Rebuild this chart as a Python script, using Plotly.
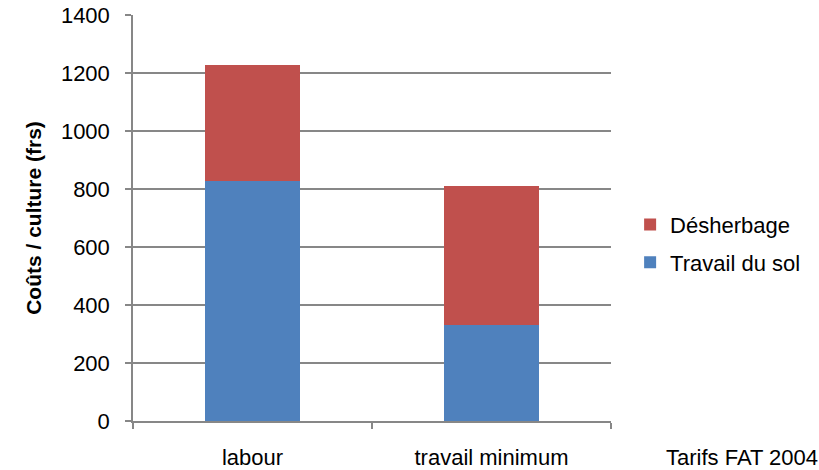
import plotly.graph_objects as go

# Cost per crop under two tillage systems (frs)
categories = ["labour", "travail minimum"]
travail_du_sol = [828, 330]
desherbage = [400, 480]
y_ticks = [0, 200, 400, 600, 800, 1000, 1200, 1400]

BLUE = "#4F81BD"
RED = "#C0504D"
GRID = "#878787"
FONT = "Liberation Sans, Arial, sans-serif"

fig = go.Figure()
fig.add_trace(go.Bar(
    x=categories, y=travail_du_sol, name="Travail du sol",
    marker=dict(color=BLUE, line=dict(width=0)),
    legendgroup="sol", legendrank=2,
))
fig.add_trace(go.Bar(
    x=categories, y=desherbage, name="Désherbage",
    marker=dict(color=RED, line=dict(width=0)),
    legendgroup="desh", legendrank=1,
))

fig.update_layout(
    width=819, height=470,
    margin=dict(l=133, r=208, t=15, b=49, autoexpand=False),
    barmode="stack", bargap=0.6,
    plot_bgcolor="white", paper_bgcolor="white",
    font=dict(family=FONT, color="black", size=21),
    showlegend=True,
    legend=dict(
        x=1.04, xanchor="left", y=0.535, yanchor="top",
        traceorder="grouped", tracegroupgap=6,
        font=dict(size=22), itemwidth=30, bgcolor="rgba(0,0,0,0)",
    ),
    xaxis=dict(
        type="category", showline=True, linecolor=GRID, linewidth=1.5,
        ticks="outside", tickson="boundaries", ticklen=6, tickcolor=GRID,
        tickwidth=1.5, showgrid=False, tickfont=dict(size=22),
        ticklabelstandoff=16, automargin=False,
    ),
    yaxis=dict(
        range=[0, 1400], tickvals=y_ticks, showline=True, linecolor=GRID,
        linewidth=1.5, showgrid=True, gridcolor=GRID, gridwidth=1.5,
        zeroline=False, ticks="outside", ticklen=6, tickcolor=GRID,
        tickwidth=1.5, tickfont=dict(size=22), ticklabelstandoff=11,
        automargin=False,
        title=dict(text="<b>Coûts / culture (frs)</b>", font=dict(size=21),
                   standoff=14),
    ),
)

fig.add_annotation(
    text="Tarifs FAT 2004", xref="paper", yref="paper",
    x=1.11, xanchor="left", y=-0.091, yanchor="middle",
    showarrow=False, font=dict(size=22, family=FONT),
)

fig.write_html("out.html")
